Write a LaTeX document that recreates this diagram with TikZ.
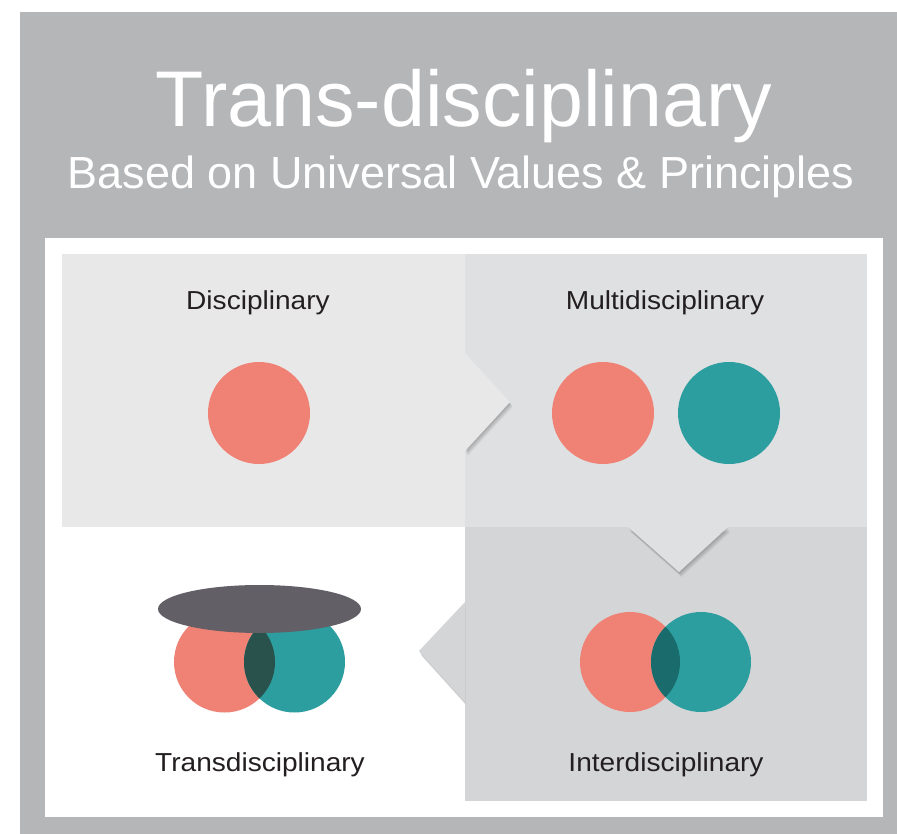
\documentclass[tikz,border=0pt]{standalone}
\usepackage{fontspec}
\setmainfont{Liberation Sans}
\usetikzlibrary{shapes.geometric}

\definecolor{frame}{HTML}{B5B6B8}
\definecolor{panelA}{HTML}{E8E8E8}
\definecolor{panelB}{HTML}{DFE0E2}
\definecolor{panelC}{HTML}{D4D5D7}
\definecolor{salmon}{HTML}{EF8274}
\definecolor{teal}{HTML}{2D9E9F}
\definecolor{interlens}{HTML}{1A6B6B}
\definecolor{translens}{HTML}{28524B}
\definecolor{cap}{HTML}{625F66}
\definecolor{ink}{HTML}{231F20}

\tikzset{
  disc/.style={circle, inner sep=0pt, minimum size=#1},
  salmondisc/.style={disc=#1, fill=salmon},
  tealdisc/.style={disc=#1, fill=teal},
  label/.style={anchor=base, text=ink, xscale=1.08, font=\fontsize{26}{26}\selectfont},
  shade/.style={fill=black, opacity=0.05}
}

\begin{document}
\begin{tikzpicture}[x=1pt,y=-1pt]
    \useasboundingbox (0,0) rectangle (897,834);
    \fill[frame] (20,12) rectangle (897,834);
    \fill[white] (45,238) rectangle (883,817);
    \fill[panelA] (62,254) rectangle (465,527);
    \fill[panelB] (465,254) rectangle (867,527);
    \fill[panelC] (465,527) rectangle (867,801);

    \begin{scope}
        \clip (465,254) rectangle (867,527);
        \foreach \s in {1,...,5}
            \fill[shade, shift={(0.5*\s,\s)}] (465,353) -- (510,402) -- (465,451) -- cycle;
        \fill[panelA] (465,353) -- (510,402) -- (465,451) -- cycle;
    \end{scope}
    \begin{scope}
        \clip (465,527) rectangle (867,801);
        \foreach \s in {1,...,5}
            \fill[shade, shift={(0.5*\s,\s)}] (628,527) -- (679,572) -- (728,527) -- cycle;
        \fill[panelB] (628,527) -- (679,572) -- (728,527) -- cycle;
    \end{scope}
    \begin{scope}
        \clip (45,527) rectangle (465,817);
        \foreach \s in {1,...,5}
            \fill[shade, shift={(0.5*\s,\s)}] (465,602) -- (419,651) -- (465,702) -- cycle;
        \fill[panelC] (465,602) -- (419,651) -- (465,702) -- cycle;
    \end{scope}

    \node[anchor=base, text=white, font=\fontsize{79}{79}\selectfont] (title) at (464,127) {Trans-disciplinary};
    \node[anchor=base, text=white, font=\fontsize{45}{45}\selectfont] (subtitle) at (461,189) {Based on Universal Values \& Principles};

    \node[label] (disciplinary) at (258,309) {Disciplinary};
    \node[label] (multi) at (665,309) {Multidisciplinary};
    \node[label] (trans) at (260,771) {Transdisciplinary};
    \node[label] (inter) at (666,771) {Interdisciplinary};

    \node[salmondisc=102pt] (discA) at (259,413) {};
    \node[salmondisc=102pt] (multiA) at (603,413) {};
    \node[tealdisc=102pt] (multiB) at (729,413) {};

    \node[salmondisc=100pt] (interA) at (630,662) {};
    \node[tealdisc=100pt] (interB) at (701,662) {};
    \begin{scope}
        \clip (interA.center) circle[radius=50pt];
        \fill[interlens] (interB.center) circle[radius=50pt];
    \end{scope}

    \node[salmondisc=101pt] (transA) at (224.5,662) {};
    \node[tealdisc=101pt] (transB) at (294.5,662) {};
    \begin{scope}
        \clip (transA.center) circle[radius=50.5pt];
        \fill[translens] (transB.center) circle[radius=50.5pt];
    \end{scope}
    \node[ellipse, fill=cap, inner sep=0pt, minimum width=203pt, minimum height=48pt] (umbrella) at (259.5,609) {};
\end{tikzpicture}
\end{document}
